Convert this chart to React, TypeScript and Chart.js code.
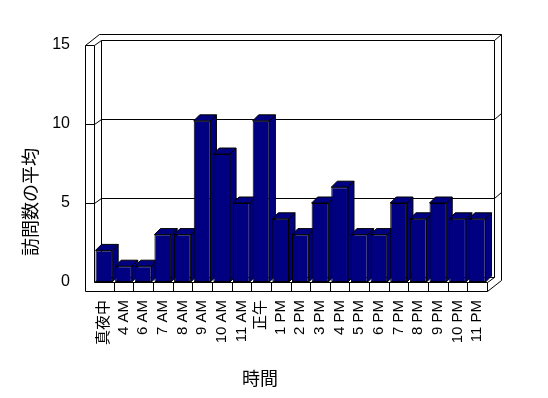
import React, { useEffect, useRef } from 'react';
import { Chart, registerables } from 'chart.js';

Chart.register(...registerables);

const categories = ['真夜中', '4 AM', '6 AM', '7 AM', '8 AM', '9 AM', '10 AM', '11 AM', '正午', '1 PM', '2 PM', '3 PM', '4 PM', '5 PM', '6 PM', '7 PM', '8 PM', '9 PM', '10 PM', '11 PM'];
const visitAverages = [2, 1, 1, 3, 3, 10.2, 8.1, 5, 10.2, 4, 3, 5, 6, 3, 3, 5, 4, 5, 4, 4];
const yTickValues = [0, 5, 10, 15];
const yAxisTitle = '訪問数の平均';
const xAxisTitle = '時間';

const NAVY = '#000080';
const WDX = 7;
const WDY = -5.5;
const SW = 9;
const FT = 9;
const BD = 6;

const px = (v: number) => Math.round(v) + 0.5;

const frame3d = {
  id: 'frame3d',
  beforeDatasetsDraw(chart: any) {
    const { ctx, chartArea, scales } = chart;
    const L = chartArea.left, R = chartArea.right, T = chartArea.top, B = chartArea.bottom;
    const y = scales.y;
    ctx.save();
    ctx.strokeStyle = '#000';
    ctx.lineWidth = 1;
    ctx.beginPath();
    const seg = (x1: number, y1: number, x2: number, y2: number) => {
      ctx.moveTo(px(x1), px(y1));
      ctx.lineTo(px(x2), px(y2));
    };
    seg(L - SW, T, L - SW, B + FT);
    seg(L - SW, T, L, T);
    seg(L, T, L, B);
    seg(L - SW, T, L - SW + 2 * WDX, T + 2 * WDY);
    seg(L, T, L + WDX, T + WDY);
    seg(L + WDX, T + WDY, R + WDX, T + WDY);
    seg(L + WDX, T + WDY, L + WDX, B + WDY);
    seg(R + WDX, T + WDY, R + WDX, B + WDY);
    seg(L + WDX, B + WDY, R + WDX, B + WDY);
    seg(L - SW + 2 * WDX, T + 2 * WDY, R + 2 * WDX, T + 2 * WDY);
    seg(R + WDX, T + WDY, R + 2 * WDX, T + 2 * WDY);
    seg(R + 2 * WDX, T + 2 * WDY, R + 2 * WDX, B + FT + 2 * WDY);
    yTickValues.forEach((v) => {
      if (v === 0 || v === yTickValues[yTickValues.length - 1]) return;
      const py = y.getPixelForValue(v);
      seg(L - SW, py, L, py);
      seg(L, py, L + WDX, py + WDY);
      seg(L + WDX, py + WDY, R + WDX, py + WDY);
      seg(R + WDX, py + WDY, R + 2 * WDX, py + 2 * WDY);
    });
    seg(L, B, R, B);
    seg(L, B, L + WDX, B + WDY);
    seg(R, B, R + WDX, B + WDY);
    seg(L - SW, B + FT, R, B + FT);
    seg(R, B, R, B + FT);
    seg(R, B + FT, R + 2 * WDX, B + FT + 2 * WDY);
    const n = categories.length;
    for (let i = 1; i < n; i++) {
      const bx = L + (i * (R - L)) / n;
      seg(bx, B, bx, B + FT);
    }
    ctx.stroke();

    const meta = chart.getDatasetMeta(0);
    ctx.fillStyle = NAVY;
    meta.data.forEach((el: any) => {
      const p = el.getProps(['x', 'y', 'base', 'width'], true);
      const l = p.x - p.width / 2;
      const r = p.x + p.width / 2;
      const ty = p.y;
      const base = p.base;
      ctx.beginPath();
      ctx.moveTo(r, ty);
      ctx.lineTo(r + BD, ty - BD);
      ctx.lineTo(r + BD, base - BD);
      ctx.lineTo(r, base);
      ctx.closePath();
      ctx.fill();
      ctx.stroke();
      ctx.beginPath();
      ctx.moveTo(l, ty);
      ctx.lineTo(l + BD, ty - BD);
      ctx.lineTo(r + BD, ty - BD);
      ctx.lineTo(r, ty);
      ctx.closePath();
      ctx.fill();
      ctx.stroke();
    });
    ctx.restore();
  },
  afterDraw(chart: any) {
    const { ctx } = chart;
    ctx.save();
    ctx.fillStyle = '#000';
    ctx.font = '18px "Noto Sans CJK JP", sans-serif';
    ctx.textAlign = 'center';
    ctx.textBaseline = 'middle';
    ctx.fillText(xAxisTitle, 260, 378);
    ctx.translate(30, 202);
    ctx.rotate(-Math.PI / 2);
    ctx.fillText(yAxisTitle, 0, 0);
    ctx.restore();
  },
};

export default function App() {
  const ref = useRef<HTMLCanvasElement | null>(null);
  useEffect(() => {
    if (!ref.current) return;
    const chart = new Chart(ref.current, {
      type: 'bar',
      data: {
        labels: categories,
        datasets: [
          {
            data: visitAverages,
            backgroundColor: NAVY,
            borderColor: '#000',
            borderWidth: 1,
            borderSkipped: false,
            barPercentage: 0.85,
            categoryPercentage: 1,
          },
        ],
      },
      options: {
        responsive: false,
        animation: false,
        devicePixelRatio: 1,
        layout: { padding: { top: 45, right: 61, left: 0, bottom: 0 } },
        plugins: { legend: { display: false }, tooltip: { enabled: false } },
        scales: {
          x: {
            grid: { display: false, drawTicks: false },
            border: { display: false },
            ticks: {
              autoSkip: false,
              minRotation: 90,
              maxRotation: 90,
              padding: 18,
              color: '#000',
              font: { family: '"Liberation Sans", "Noto Sans CJK JP", sans-serif', size: 15 },
            },
            afterFit: (s: any) => {
              s.height = 116;
            },
          },
          y: {
            min: 0,
            max: 15,
            grid: { display: false, drawTicks: false },
            border: { display: false },
            ticks: {
              stepSize: 5,
              padding: 24,
              color: '#000',
              font: { family: '"Liberation Sans", sans-serif', size: 16 },
            },
            afterFit: (s: any) => {
              s.width = 94;
            },
          },
        },
      },
      plugins: [frame3d],
    });
    return () => chart.destroy();
  }, []);
  return (
    <div style={{ position: 'fixed', left: 0, top: 0, width: 548, height: 398, background: '#fff' }}>
      <canvas ref={ref} width={548} height={398} />
    </div>
  );
}
